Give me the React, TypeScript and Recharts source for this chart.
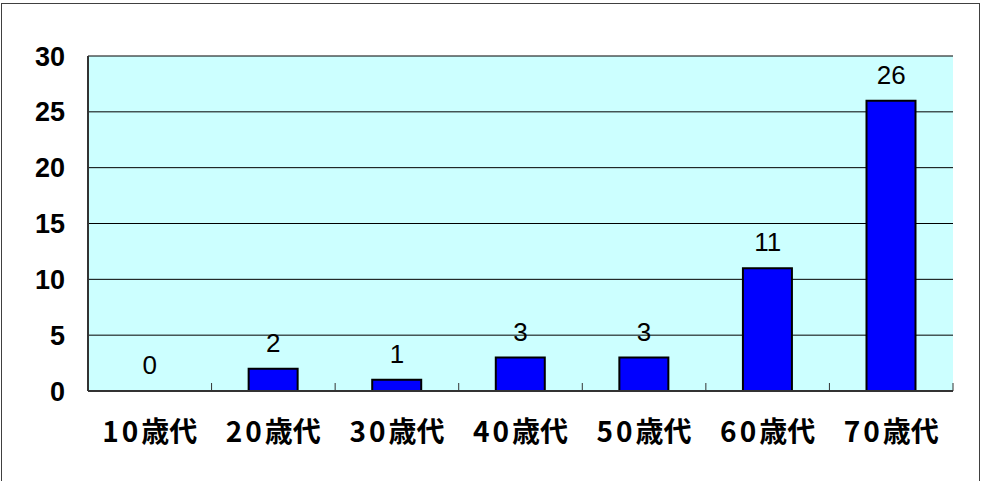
import { ComposedChart, Bar, Line, XAxis, YAxis, CartesianGrid, LabelList } from 'recharts';

const categories = ['10歳代', '20歳代', '30歳代', '40歳代', '50歳代', '60歳代', '70歳代'];
const counts = [0, 2, 1, 3, 3, 11, 26];
const yTicks = [0, 5, 10, 15, 20, 25, 30];

const data = categories.map((name, i) => ({ name, value: counts[i] }));

// category label plus the short inward tick at the right edge of each band
const CategoryTick = (props: any) => {
  const { x, y, payload } = props;
  const half = payload && typeof payload.offset === 'number' ? payload.offset : 0;
  const label: string = payload.value;
  const digits = label.replace(/[^0-9]/g, '');
  const rest = label.replace(/[0-9]/g, '');
  return (
    <g>
      <line x1={x + half} x2={x + half} y1={y} y2={y - 8} stroke="#333" strokeWidth={1} />
      <text
        x={x}
        y={y + 51}
        textAnchor="middle"
        fontFamily="'Noto Sans CJK JP', sans-serif"
        fontWeight={700}
        fontSize={28}
        fill="#000"
      >
        <tspan letterSpacing={3}>{digits}</tspan>
        <tspan>{rest}</tspan>
      </text>
    </g>
  );
};

export default function App() {
  return (
    <div style={{ position: 'absolute', left: 0, top: 0, width: 984, height: 481, background: '#fff', overflow: 'hidden' }}>
      <div
        style={{
          position: 'absolute',
          left: 1,
          top: 3,
          width: 979,
          height: 520,
          border: '1px solid #404040',
          boxSizing: 'border-box',
        }}
      />
      <ComposedChart
        width={984}
        height={481}
        data={data}
        margin={{ top: 56, right: 31, bottom: 30, left: 0 }}
        barCategoryGap="30%"
        style={{ position: 'absolute', left: 0, top: 0 }}
      >
        <CartesianGrid fill="#CCFFFF" vertical={false} stroke="#000" strokeOpacity={1} />
        <XAxis
          dataKey="name"
          height={60}
          axisLine={{ stroke: '#333', strokeWidth: 2 }}
          tickLine={false}
          tickSize={0}
          tickMargin={0}
          interval={0}
          tick={<CategoryTick />}
        />
        <XAxis xAxisId="top" orientation="top" dataKey="name" height={0} axisLine={{ stroke: '#808080', strokeWidth: 2 }} tick={false} tickLine={false} />
        <YAxis
          width={88}
          domain={[0, 30]}
          ticks={yTicks}
          interval={0}
          axisLine={{ stroke: '#333', strokeWidth: 2 }}
          tickLine={false}
          tickSize={0}
          tickMargin={23}
          tick={{ fill: '#000', fontSize: 27, fontWeight: 700, fontFamily: "'Liberation Sans', Arial, sans-serif" }}
        />
        <YAxis yAxisId="right" orientation="right" width={0} domain={[0, 30]} axisLine={{ stroke: '#808080', strokeWidth: 2 }} tick={false} tickLine={false} />
        <Bar dataKey="value" fill="#0000FF" stroke="#000" strokeWidth={2} isAnimationActive={false} />
        {/* invisible series carrying the value labels so that 0 is labelled too */}
        <Line dataKey="value" stroke="none" dot={false} activeDot={false} isAnimationActive={false}>
          <LabelList
            dataKey="value"
            position="top"
            offset={17}
            fill="#000"
            fontSize={26}
            fontFamily="'Liberation Sans', Arial, sans-serif"
          />
        </Line>
      </ComposedChart>
    </div>
  );
}
